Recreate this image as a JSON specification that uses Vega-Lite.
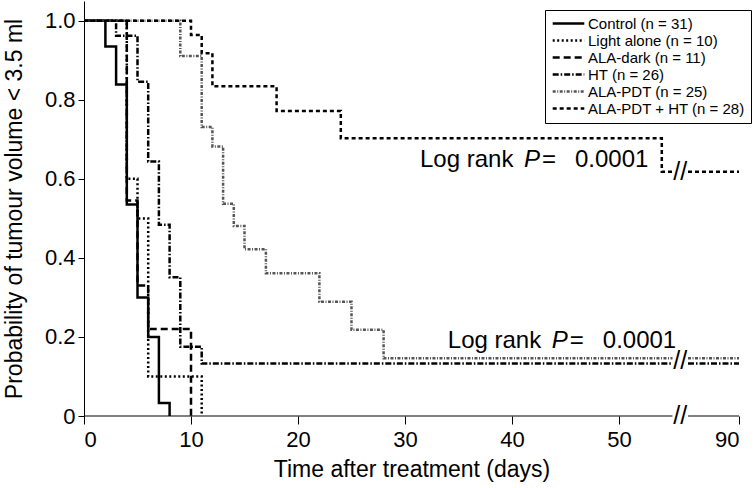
{
  "$schema": "https://vega.github.io/schema/vega-lite/v6.json",
  "width": 655,
  "height": 415,
  "autosize": {"type": "none"},
  "padding": {"left": 84, "top": 1, "right": 15, "bottom": 72},
  "background": "white",
  "config": {
    "view": {"stroke": null},
    "font": "Liberation Sans",
    "axis": {"grid": false, "domainColor": "black", "tickColor": "black", "labelColor": "black", "titleColor": "black", "labelFontSize": 22, "titleFontSize": 23, "titleFontWeight": "normal", "labelFont": "Liberation Sans", "titleFont": "Liberation Sans"}
  },
  "layer": [
    {
      "data": {"values": [
        {"g": "Control (n = 31)", "seg": 1, "x": 0, "y": 1},
        {"g": "Control (n = 31)", "seg": 1, "x": 2, "y": 0.935},
        {"g": "Control (n = 31)", "seg": 1, "x": 3, "y": 0.839},
        {"g": "Control (n = 31)", "seg": 1, "x": 4, "y": 0.535},
        {"g": "Control (n = 31)", "seg": 1, "x": 5, "y": 0.3},
        {"g": "Control (n = 31)", "seg": 1, "x": 6, "y": 0.2},
        {"g": "Control (n = 31)", "seg": 1, "x": 7, "y": 0.033},
        {"g": "Control (n = 31)", "seg": 1, "x": 8, "y": 0},
        {"g": "Light alone (n = 10)", "seg": 1, "x": 0, "y": 1},
        {"g": "Light alone (n = 10)", "seg": 1, "x": 4, "y": 0.6},
        {"g": "Light alone (n = 10)", "seg": 1, "x": 5, "y": 0.5},
        {"g": "Light alone (n = 10)", "seg": 1, "x": 6, "y": 0.1},
        {"g": "Light alone (n = 10)", "seg": 1, "x": 11, "y": 0},
        {"g": "ALA-dark (n = 11)", "seg": 1, "x": 0, "y": 1},
        {"g": "ALA-dark (n = 11)", "seg": 1, "x": 4, "y": 0.545},
        {"g": "ALA-dark (n = 11)", "seg": 1, "x": 5, "y": 0.33},
        {"g": "ALA-dark (n = 11)", "seg": 1, "x": 6, "y": 0.22},
        {"g": "ALA-dark (n = 11)", "seg": 1, "x": 10, "y": 0},
        {"g": "HT (n = 26)", "seg": 1, "x": 0, "y": 1},
        {"g": "HT (n = 26)", "seg": 1, "x": 3, "y": 0.962},
        {"g": "HT (n = 26)", "seg": 1, "x": 5, "y": 0.846},
        {"g": "HT (n = 26)", "seg": 1, "x": 6, "y": 0.644},
        {"g": "HT (n = 26)", "seg": 1, "x": 7, "y": 0.484},
        {"g": "HT (n = 26)", "seg": 1, "x": 8, "y": 0.351},
        {"g": "HT (n = 26)", "seg": 1, "x": 9, "y": 0.175},
        {"g": "HT (n = 26)", "seg": 1, "x": 11, "y": 0.133},
        {"g": "HT (n = 26)", "seg": 1, "x": 55, "y": 0.133},
        {"g": "HT (n = 26)", "seg": 2, "x": 56, "y": 0.133},
        {"g": "HT (n = 26)", "seg": 2, "x": 90, "y": 0.133},
        {"g": "ALA-PDT (n = 25)", "seg": 1, "x": 0, "y": 1},
        {"g": "ALA-PDT (n = 25)", "seg": 1, "x": 9, "y": 0.911},
        {"g": "ALA-PDT (n = 25)", "seg": 1, "x": 11, "y": 0.731},
        {"g": "ALA-PDT (n = 25)", "seg": 1, "x": 12, "y": 0.682},
        {"g": "ALA-PDT (n = 25)", "seg": 1, "x": 13, "y": 0.537},
        {"g": "ALA-PDT (n = 25)", "seg": 1, "x": 14, "y": 0.481},
        {"g": "ALA-PDT (n = 25)", "seg": 1, "x": 15, "y": 0.422},
        {"g": "ALA-PDT (n = 25)", "seg": 1, "x": 17, "y": 0.361},
        {"g": "ALA-PDT (n = 25)", "seg": 1, "x": 22, "y": 0.289},
        {"g": "ALA-PDT (n = 25)", "seg": 1, "x": 25, "y": 0.218},
        {"g": "ALA-PDT (n = 25)", "seg": 1, "x": 28, "y": 0.146},
        {"g": "ALA-PDT (n = 25)", "seg": 1, "x": 55, "y": 0.146},
        {"g": "ALA-PDT (n = 25)", "seg": 2, "x": 56, "y": 0.146},
        {"g": "ALA-PDT (n = 25)", "seg": 2, "x": 90, "y": 0.146},
        {"g": "ALA-PDT + HT (n = 28)", "seg": 1, "x": 0, "y": 1},
        {"g": "ALA-PDT + HT (n = 28)", "seg": 1, "x": 10, "y": 0.964},
        {"g": "ALA-PDT + HT (n = 28)", "seg": 1, "x": 11, "y": 0.918},
        {"g": "ALA-PDT + HT (n = 28)", "seg": 1, "x": 12, "y": 0.834},
        {"g": "ALA-PDT + HT (n = 28)", "seg": 1, "x": 18, "y": 0.772},
        {"g": "ALA-PDT + HT (n = 28)", "seg": 1, "x": 24, "y": 0.703},
        {"g": "ALA-PDT + HT (n = 28)", "seg": 1, "x": 54, "y": 0.618},
        {"g": "ALA-PDT + HT (n = 28)", "seg": 1, "x": 55, "y": 0.618},
        {"g": "ALA-PDT + HT (n = 28)", "seg": 2, "x": 56, "y": 0.618},
        {"g": "ALA-PDT + HT (n = 28)", "seg": 2, "x": 90, "y": 0.618}
      ]},
      "mark": {"type": "line", "interpolate": "step-after", "strokeCap": "butt"},
      "encoding": {
        "x": {"field": "x", "type": "quantitative", "title": "Time after treatment (days)",
          "scale": {"domain": [0, 55, 56, 90], "range": [0, 588.5, 604, 655], "nice": false},
          "axis": {"values": [0, 10, 20, 30, 40, 50, 90], "domain": false, "tickSize": 8, "labelPadding": 5, "titlePadding": 8}},
        "y": {"field": "y", "type": "quantitative", "title": "Probability of tumour volume < 3.5 ml",
          "scale": {"domain": [0, 1.05], "nice": false},
          "axis": {"values": [0, 0.2, 0.4, 0.6, 0.8, 1.0], "labelExpr": "datum.value == 0 ? '0' : format(datum.value, '.1f')", "tickSize": 6, "labelPadding": 3, "titlePadding": 18}},
        "color": {"field": "g", "type": "nominal",
          "scale": {"domain": ["Control (n = 31)", "Light alone (n = 10)", "ALA-dark (n = 11)", "HT (n = 26)", "ALA-PDT (n = 25)", "ALA-PDT + HT (n = 28)"], "range": ["black", "black", "black", "black", "#555555", "black"]},
          "legend": {"title": null, "orient": "none", "legendX": 461, "legendY": 9, "symbolType": "stroke", "symbolSize": 1000, "clipHeight": 15, "labelFontSize": 15, "labelFont": "Liberation Sans", "labelColor": "black", "labelOffset": 2, "padding": 6, "strokeColor": "black", "fillColor": "white", "rowPadding": 1}},
        "strokeDash": {"field": "g", "type": "nominal",
          "scale": {"domain": ["Control (n = 31)", "Light alone (n = 10)", "ALA-dark (n = 11)", "HT (n = 26)", "ALA-PDT (n = 25)", "ALA-PDT + HT (n = 28)"], "range": [[1, 0], [2, 2.5], [7, 4], [6, 2, 1.5, 2], [3, 1.5, 1, 1.5], [4, 3]]}},
        "strokeWidth": {"field": "g", "type": "nominal",
          "scale": {"domain": ["Control (n = 31)", "Light alone (n = 10)", "ALA-dark (n = 11)", "HT (n = 26)", "ALA-PDT (n = 25)", "ALA-PDT + HT (n = 28)"], "range": [2.5, 2.5, 3, 2, 1, 2]}},
        "detail": {"field": "seg"}
      }
    },
    {
      "data": {"values": [{"x": 0, "x2": 55, "y": 0}, {"x": 56, "x2": 90, "y": 0}]},
      "mark": {"type": "rule", "color": "black", "strokeWidth": 1},
      "encoding": {
        "x": {"field": "x", "type": "quantitative", "title": "Time after treatment (days)"},
        "x2": {"field": "x2"},
        "y": {"field": "y", "type": "quantitative", "title": "Probability of tumour volume < 3.5 ml"}
      }
    },
    {
      "data": {"values": [{"x": 55.5, "y": 0}, {"x": 55.5, "y": 0.14}, {"x": 55.5, "y": 0.618}]},
      "mark": {"type": "text", "text": "//", "fontSize": 25, "align": "center", "baseline": "middle", "color": "black"},
      "encoding": {
        "x": {"field": "x", "type": "quantitative", "title": "Time after treatment (days)"},
        "y": {"field": "y", "type": "quantitative", "title": "Probability of tumour volume < 3.5 ml"}
      }
    },
    {
      "data": {"values": [{"x": 31.4, "y": 0.63}, {"x": 34, "y": 0.173}]},
      "layer": [
        {"mark": {"type": "text", "text": "Log rank", "fontSize": 24, "align": "left", "baseline": "alphabetic", "color": "black"}},
        {"mark": {"type": "text", "text": "P", "fontSize": 24, "fontStyle": "italic", "align": "left", "baseline": "alphabetic", "dx": 104, "color": "black"}},
        {"mark": {"type": "text", "text": "=", "fontSize": 24, "align": "left", "baseline": "alphabetic", "dx": 122, "color": "black"}},
        {"mark": {"type": "text", "text": "0.0001", "fontSize": 24, "align": "left", "baseline": "alphabetic", "dx": 155, "color": "black"}}
      ],
      "encoding": {
        "x": {"field": "x", "type": "quantitative", "title": "Time after treatment (days)"},
        "y": {"field": "y", "type": "quantitative", "title": "Probability of tumour volume < 3.5 ml"}
      }
    }
  ]
}
